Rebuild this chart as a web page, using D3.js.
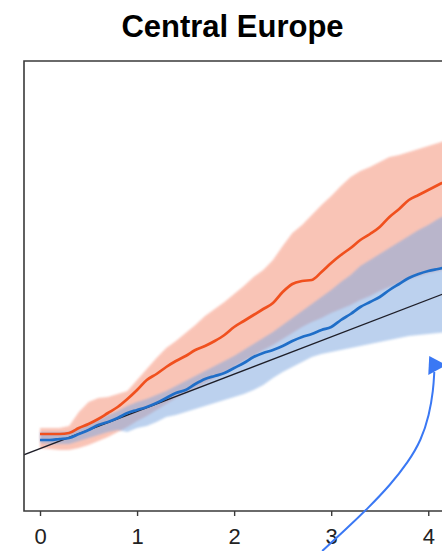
<html>
<head>
<script src="https://d3js.org/d3.v7.min.js"></script>
</head>

<style>
body{ margin:0; background:#fff; }
svg{ display:block; }
</style>

<body>
<script>

var width = 442;
var height = 551;

// x grid, 0 to 4.2 every 0.1
var years = d3.range(0, 43).map(function(k){ return k / 10; });

// red series (mean + spread)
var redMean = [7.7,7.7,7.7,7.8,8.3,8.7,9.2,9.8,10.4,11.2,12.1,13.1,13.7,14.4,15.0,15.5,16.1,16.5,17.0,17.6,
  18.4,19.0,19.6,20.2,20.8,21.9,22.7,23.0,23.1,23.9,24.8,25.6,26.3,27.1,27.7,28.4,29.4,30.2,31.1,31.6,32.1,32.6,33.1];
var redHigh = [8.3,8.3,8.3,8.5,9.9,10.9,11.3,11.4,11.7,12.0,13.1,14.2,15.3,16.3,17.0,17.8,18.6,19.5,20.2,20.9,
  21.7,22.5,23.4,24.1,25.1,26.5,27.8,28.6,29.6,30.6,31.5,32.5,33.4,34.0,34.4,34.9,35.4,35.6,35.9,36.2,36.5,36.8,37.1];
var redLow = [6.3,6.2,6.1,6.1,6.3,6.6,7.0,7.4,7.9,8.4,9.0,9.5,10.1,10.7,11.3,11.8,12.3,12.8,13.3,13.8,
  14.4,15.0,15.5,16.1,16.6,17.2,17.8,18.4,18.9,19.3,19.8,20.2,20.6,21.1,21.5,22.0,22.4,22.8,23.2,23.5,23.8,24.0,24.2];

// blue series (mean + spread)
var blueMean = [7.1,7.1,7.2,7.3,7.7,8.1,8.6,8.9,9.3,9.8,10.1,10.4,10.8,11.3,11.8,12.1,12.7,13.2,13.5,13.8,
  14.3,14.8,15.4,15.8,16.1,16.5,17.0,17.4,17.7,18.1,18.4,19.1,19.7,20.4,20.9,21.4,22.1,22.7,23.3,23.7,24.0,24.2,24.4];
var blueHigh = [7.9,7.9,7.9,7.9,8.3,8.7,9.1,9.6,10.0,10.5,10.9,11.2,11.6,12.0,12.5,13.0,13.5,14.0,14.5,15.0,
  15.5,16.1,16.7,17.3,17.9,18.6,19.3,20.0,20.7,21.4,22.1,22.9,23.6,24.5,25.1,25.7,26.3,26.9,27.5,28.1,28.6,29.2,29.7];
var blueLow = [6.8,6.7,6.7,6.7,7.0,7.3,7.6,7.9,8.1,7.9,8.3,8.5,8.9,9.4,9.6,9.9,10.2,10.5,10.8,11.1,
  11.4,11.7,12.1,12.6,13.3,13.9,14.4,14.9,15.4,15.7,15.9,16.1,16.3,16.5,16.7,16.9,17.1,17.3,17.5,17.6,17.7,17.8,17.9];

// straight reference line (two end points)
var refX = [-0.17, 4.5];
var refY = [5.6, 23.0];

// annotation arrow (data units)
var arrowPts = [[2.907,-4.0],[3.144,-1.9],[3.381,0.3],[3.608,2.6],[3.794,4.9],[3.928,7.1],[4.010,9.6],[4.052,12.1],[4.062,13.9]];
var arrowHead = [[4.010,15.5],[4.000,13.6],[4.186,14.6]];

var xTicks = [0, 1, 2, 3, 4];
var title = "Central Europe";

var plot = {left:24, right:470, top:61, bottom:511};

var x = d3.scaleLinear().domain([-0.165, 4.43]).range([plot.left, plot.right]);
var y = d3.scaleLinear().domain([0, 45]).range([plot.bottom, plot.top]);

var svg = d3.select("body").append("svg")
    .attr("width", width)
    .attr("height", height)
    .attr("font-family", "Liberation Sans, Arial, Helvetica, sans-serif");

var defs = svg.append("defs");
defs.append("clipPath").attr("id", "clip")
  .append("rect")
    .attr("x", plot.left).attr("y", plot.top)
    .attr("width", plot.right - plot.left).attr("height", plot.bottom - plot.top);
defs.append("filter").attr("id", "soft")
  .append("feGaussianBlur").attr("stdDeviation", 1.2);

var g = svg.append("g").attr("clip-path", "url(#clip)");

function band(lo, hi){
  return d3.area()
    .x(function(d, i){ return x(years[i]); })
    .y0(function(d, i){ return y(lo[i]); })
    .y1(function(d, i){ return y(hi[i]); })(years);
}
function line(vals){
  return d3.line()
    .curve(d3.curveMonotoneX)
    .x(function(d, i){ return x(years[i]); })
    .y(function(d, i){ return y(vals[i]); })(years);
}

g.append("path")
  .attr("d", band(redLow, redHigh))
  .attr("fill", "#f58a70")
  .attr("opacity", 0.5)
  .attr("filter", "url(#soft)");

g.append("path")
  .attr("d", band(blueLow, blueHigh))
  .attr("fill", "#7fa8e0")
  .attr("opacity", 0.52)
  .attr("filter", "url(#soft)");

g.append("line")
  .attr("x1", x(refX[0])).attr("y1", y(refY[0]))
  .attr("x2", x(refX[1])).attr("y2", y(refY[1]))
  .attr("stroke", "#1e1e28")
  .attr("stroke-width", 1.3);

g.append("path")
  .attr("d", line(blueMean))
  .attr("fill", "none")
  .attr("stroke", "#1f6ec8")
  .attr("stroke-width", 2.7)
  .attr("stroke-linejoin", "round");

g.append("path")
  .attr("d", line(redMean))
  .attr("fill", "none")
  .attr("stroke", "#f0501e")
  .attr("stroke-width", 2.7)
  .attr("stroke-linejoin", "round");

// frame: left, top, bottom (right side runs past the picture)
svg.append("path")
  .attr("d", "M" + plot.right + "," + plot.top + "H" + plot.left + "V" + plot.bottom + "H" + plot.right)
  .attr("fill", "none")
  .attr("stroke", "#3a3a3a")
  .attr("stroke-width", 1.6);

// x axis ticks + labels
var xAxis = d3.axisBottom(x)
    .tickValues(xTicks)
    .tickSize(5)
    .tickSizeOuter(0)
    .tickPadding(12)
    .tickFormat(d3.format("d"));

var ax = svg.append("g")
    .attr("transform", "translate(0," + plot.bottom + ")")
    .call(xAxis);
ax.select(".domain").remove();
ax.selectAll("line").attr("stroke", "#3a3a3a").attr("stroke-width", 1.4);
ax.selectAll("text")
  .attr("fill", "#222")
  .attr("font-size", 22)
  .attr("font-family", "Liberation Sans, Arial, Helvetica, sans-serif");

// title
svg.append("text")
  .attr("x", 232.5)
  .attr("y", 37)
  .attr("text-anchor", "middle")
  .attr("font-size", 31)
  .attr("font-weight", "bold")
  .attr("fill", "#000")
  .text(title);

// annotation arrow
svg.append("path")
  .attr("d", d3.line().curve(d3.curveBasis)
      .x(function(d){ return x(d[0]); })
      .y(function(d){ return y(d[1]); })(arrowPts))
  .attr("fill", "none")
  .attr("stroke", "#3a78f4")
  .attr("stroke-width", 2);

svg.append("path")
  .attr("d", d3.line()
      .x(function(d){ return x(d[0]); })
      .y(function(d){ return y(d[1]); })(arrowHead) + "Z")
  .attr("fill", "#3a78f4");

</script>
</body>
</html>
